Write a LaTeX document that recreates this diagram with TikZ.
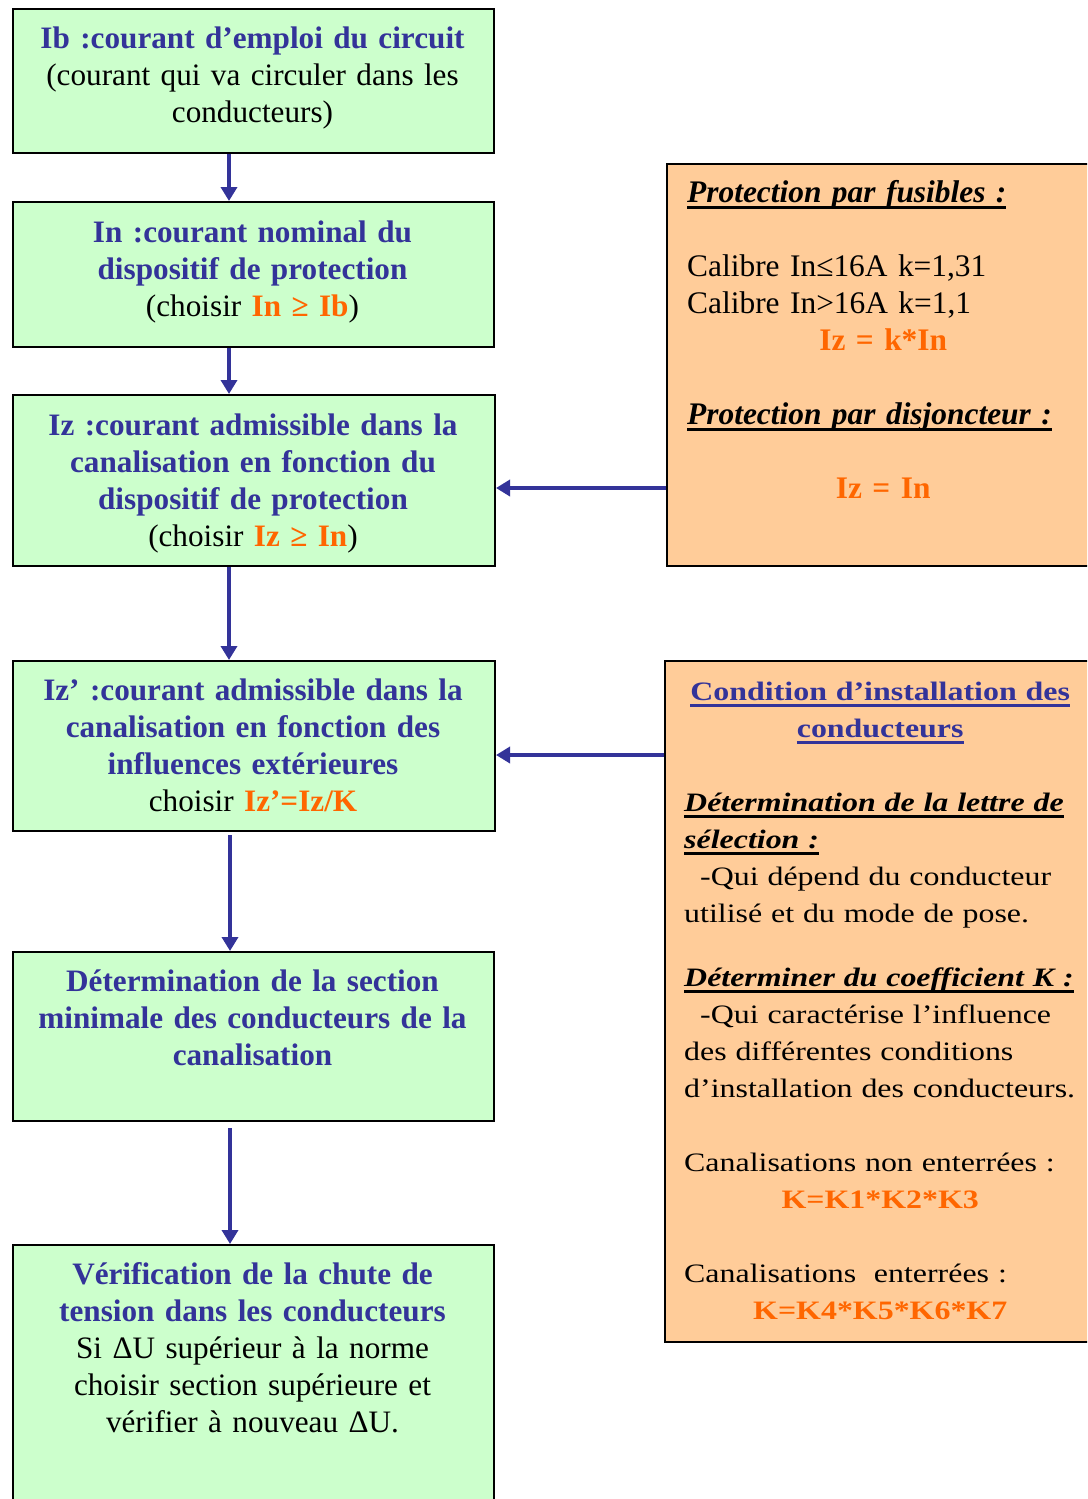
\documentclass[tikz,border=0pt]{standalone}
\usepackage{fontspec}
\setmainfont{Liberation Serif}
\newfontfamily\widefont{Liberation Serif}[FakeStretch=1.2]
\usetikzlibrary{arrows.meta}
\definecolor{tblue}{HTML}{333399}
\definecolor{torange}{HTML}{FF6600}
\definecolor{gfill}{HTML}{CCFFCC}
\definecolor{ofill}{HTML}{FFCC99}
\newcommand\myul[1]{\setbox0\hbox{#1}\leavevmode\rlap{\vrule height -4pt depth 7pt width \wd0}\box0}
\newcommand\ho[1]{{\color{torange}\bfseries #1}}
\begin{document}
\begin{tikzpicture}[x=1pt,y=-1pt,
  gbox/.style={draw=black, line width=2pt, fill=gfill, anchor=north west, inner sep=0pt},
  obox/.style={draw=black, line width=2pt, fill=ofill, anchor=north west, inner sep=0pt},
  ltext/.style={anchor=base, text width=470pt, align=center, inner sep=0pt, font=\fontsize{31.2}{37}\selectfont\frenchspacing},
  rtext/.style={anchor=base west, text width=392pt, align=left, inner sep=0pt, font=\fontsize{31.4}{37}\selectfont\frenchspacing},
  wtext/.style={anchor=base west, text width=392pt, align=left, inner sep=0pt, font=\widefont\fontsize{26.6}{37}\selectfont\frenchspacing},
  arr/.style={draw=tblue, line width=4pt, -{Triangle[width=16pt,length=14pt]}}]
\clip (0,0) rectangle (1087,1499);
% boxes
\node[gbox, minimum width=481pt, minimum height=144pt] (b1) at (12,8) {};
\node[gbox, minimum width=481pt, minimum height=145pt] (b2) at (12,201) {};
\node[gbox, minimum width=482pt, minimum height=171pt] (b3) at (12,394) {};
\node[gbox, minimum width=482pt, minimum height=170pt] (b4) at (12,660) {};
\node[gbox, minimum width=481pt, minimum height=169pt] (b5) at (12,951) {};
\node[gbox, minimum width=481pt, minimum height=300pt] (b6) at (12,1244) {};
\node[obox, minimum width=430pt, minimum height=402pt] (rA) at (666,163) {};
\node[obox, minimum width=430pt, minimum height=681pt] (rB) at (664,660) {};
% texts
\node[ltext] (t1) at (252.5,48) {{\color{tblue}\bfseries Ib :courant d’emploi du circuit}\\(courant qui va circuler dans les\\conducteurs)};
\node[ltext] (t2) at (252.5,242) {\color{tblue}\bfseries In :courant nominal du\\dispositif de protection\\\mdseries\color{black}(choisir \ho{In ≥ Ib})};
\node[ltext] (t3) at (253,435) {\color{tblue}\bfseries Iz :courant admissible dans la\\canalisation en fonction du\\dispositif de protection\\\mdseries\color{black}(choisir \ho{Iz ≥ In})};
\node[ltext] (t4) at (253,700) {\color{tblue}\bfseries Iz’ :courant admissible dans la\\canalisation en fonction des\\influences extérieures\\\mdseries\color{black}choisir \ho{Iz’=Iz/K}};
\node[ltext] (t5) at (252.5,991) {\color{tblue}\bfseries Détermination de la section\\minimale des conducteurs de la\\canalisation};
\node[ltext] (t6) at (252.5,1284) {\color{tblue}\bfseries Vérification de la chute de\\tension dans les conducteurs\\\mdseries\color{black}Si ΔU supérieur à la norme\\choisir section supérieure et\\vérifier à nouveau ΔU.};
\node[rtext] (tA) at (687,202) {\myul{\bfseries\itshape Protection par fusibles :}\\[37pt]
Calibre In≤16A k=1,31\\
Calibre In>16A k=1,1\\
\makebox[\hsize]{\ho{Iz = k*In}}\\[37pt]
\myul{\bfseries\itshape Protection par disjoncteur :}\\[37pt]
\makebox[\hsize]{\ho{Iz = In}}};
\node[wtext] (tB) at (684,700) {\makebox[\hsize]{\color{tblue}\bfseries\myul{Condition d’installation des}}\\
\makebox[\hsize]{\color{tblue}\bfseries\myul{conducteurs}}\\[37pt]
\myul{\bfseries\itshape Détermination de la lettre de}\\
\myul{\bfseries\itshape sélection :}\\
\hspace*{16pt}-Qui dépend du conducteur\\
utilisé et du mode de pose.\\[27pt]
\myul{\bfseries\itshape Déterminer du coefficient K :}\\
\hspace*{16pt}-Qui caractérise l’influence\\
des différentes conditions\\
d’installation des conducteurs.\\[37pt]
Canalisations non enterrées :\\
\makebox[\hsize]{\ho{K=K1*K2*K3}}\\[37pt]
Canalisations \ enterrées :\\
\makebox[\hsize]{\ho{K=K4*K5*K6*K7}}};
% connectors
\draw[arr] ([xshift=-24.5pt]b1.south) -- ([xshift=-24.5pt]b2.north);
\draw[arr] ([xshift=-24.5pt]b2.south) -- ([xshift=-25pt]b3.north);
\draw[arr] ([xshift=-25pt]b3.south) -- ([xshift=-25pt]b4.north);
\draw[arr] ([xshift=-24pt,yshift=-3pt]b4.south) -- ([xshift=-23.5pt]b5.north);
\draw[arr] ([xshift=-23.5pt,yshift=-6pt]b5.south) -- ([xshift=-23.5pt]b6.north);
\coordinate (h1) at (0,488);
\coordinate (h2) at (0,755);
\draw[arr] (rA.west |- h1) -- (b3.east |- h1);
\draw[arr] (rB.west |- h2) -- (b4.east |- h2);
\end{tikzpicture}
\end{document}
